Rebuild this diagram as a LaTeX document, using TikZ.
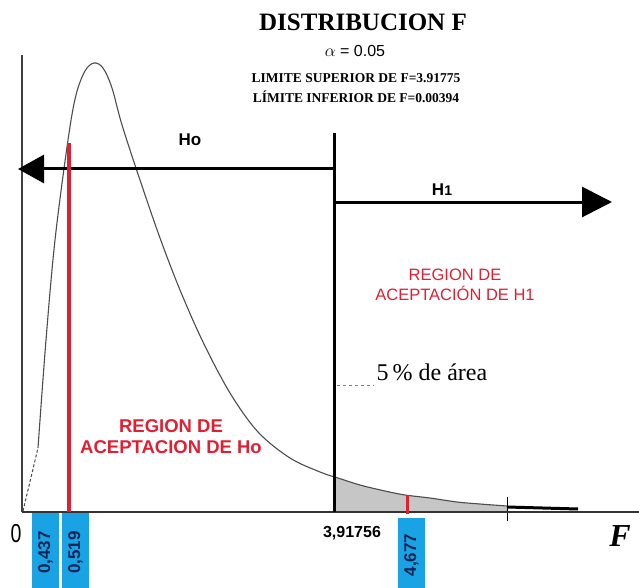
\documentclass[tikz,border=0pt]{standalone}
\usepackage{fontspec}
\setmainfont{Liberation Serif}
\setsansfont{Liberation Sans}
\usetikzlibrary{arrows.meta}

\definecolor{RegionRed}{rgb}{0.88,0.12,0.2}
\definecolor{CutBlue}{rgb}{0.1,0.64,0.9}
\definecolor{CutText}{rgb}{0.04,0.14,0.33}
\definecolor{CurveGray}{rgb}{0.3,0.3,0.3}

\newcommand{\drawcutbox}[4]{% Parameters: name, left edge, top edge, label
  \fill[CutBlue] (#2,#3) rectangle (#2+27,588);
  \node[rotate=90,text=CutText,font=\sffamily\bfseries\fontsize{17}{17}\selectfont] (#1) at (#2+13.5,{(#3+588)/2+2}) {#4};
}
\newcommand{\drawtail}[1]{ % Parameter: left end of the tail
  \draw[line width=3pt] (#1,507) -- (#1+71,509);
  \draw[line width=0.9pt] (#1,497) -- (#1,521);
}

\begin{document}
\begin{tikzpicture}[x=1pt,y=-1pt,
    hyplbl/.style={font=\sffamily\bfseries\fontsize{17}{17}\selectfont},
    redlbl/.style={text=RegionRed,align=center},
    hyparrow/.style={line width=3pt}]
  \useasboundingbox (0,0) rectangle (639,588);

  % shaded tail area
  \fill[gray!45] (335,512) -- plot[smooth,tension=0.5] coordinates {(335,477) (360,485) (385,491) (405,495) (430,498) (457,502) (480,504) (507,506)} -- (507,512) -- cycle;

  % density curve
  \draw[CurveGray,densely dashed,line width=1pt] (23,511) -- (38,448);
  \draw[CurveGray,line width=1.1pt] plot[smooth,tension=0.55] coordinates {(38,448) (46,340) (55,240) (68,140) (76,95) (85,71) (94,63) (103,68) (112,88) (122,125) (140,180) (160,238) (180,290) (203,342) (230,393) (258,432) (290,458) (320,472) (335,477)};
  \draw[CurveGray,line width=1.1pt] plot[smooth,tension=0.5] coordinates {(335,477) (360,485) (385,491) (405,495) (430,498) (457,502) (480,504) (507,506)};
  \drawtail{507}

  % axes
  \coordinate (origin) at (22,512);
  \coordinate (yend) at (22,55);
  \coordinate (xend) at (639,512);
  \draw[black!75,line width=1.2pt] (origin) -- (yend);
  \draw[black!80,line width=1.8pt] (origin) -- (xend);

  % hypotheses
  \coordinate (split) at (334,169);
  \coordinate (splittop) at (334,133);
  \coordinate (splitbase) at (334,512);
  \coordinate (hotip) at (18,169);
  \coordinate (hstart) at (334,202);
  \coordinate (htip) at (612,202);
  \draw[line width=3pt] (splittop) -- (splitbase);
  \draw[hyparrow,-{Triangle[length=26pt,width=28pt]}] (split) -- (hotip);
  \draw[hyparrow,-{Triangle[length=30pt,width=30pt]}] (hstart) -- (htip);
  \node[hyplbl] (ho) at (190,140) {Ho};
  \node[hyplbl] (hone) at (442,190) {H{\fontsize{14}{14}\selectfont 1}};

  % critical values
  \coordinate (redtop) at (69,143);
  \coordinate (redbase) at (69,512);
  \coordinate (bluetop) at (407,495);
  \coordinate (bluebase) at (407,514);
  \draw[RegionRed,line width=3.5pt] (redtop) -- (redbase);
  \draw[RegionRed,line width=3pt] (bluetop) -- (bluebase);

  % region labels
  \node[redlbl,font=\sffamily\bfseries\fontsize{18.5}{21}\selectfont] (regho) at (171,437) {REGION DE\\ACEPTACION DE Ho};
  \node[redlbl,font=\sffamily\fontsize{16.5}{20.5}\selectfont] (regh1) at (455,285) {REGION DE\\ACEPTACIÓN DE H1};
  \node[font=\fontsize{24}{24}\selectfont] (area) at (432,372) {5\,\% de área};
  \coordinate (areamark) at (337,385);
  \draw[gray,dashed,line width=1pt] (areamark) -- (area.south west |- areamark);

  % titles
  \node[font=\bfseries\fontsize{25}{25}\selectfont] (title) at (363,22) {DISTRIBUCION F};
  \node[font=\sffamily\fontsize{16}{16}\selectfont] (alpha) at (355,51) {$\alpha$ = 0.05};
  \node[font=\bfseries\fontsize{13.5}{20}\selectfont,align=center] (limits) at (356,88) {LIMITE SUPERIOR DE F=3.91775\\LÍMITE INFERIOR DE F=0.00394};

  % axis labels
  \node[font=\sffamily\fontsize{26}{26}\selectfont,xscale=0.75] (zero) at (16,534) {0};
  \node[font=\sffamily\bfseries\fontsize{16}{16}\selectfont] (fcrit) at (352,533) {3,91756};
  \node[font=\bfseries\itshape\fontsize{32}{32}\selectfont] (fvar) at (620,536) {F};
  \drawcutbox{lowa}{32}{513}{0,437}
  \drawcutbox{lowb}{62}{513}{0,519}
  \drawcutbox{upp}{398}{518}{4,677}
\end{tikzpicture}
\end{document}
